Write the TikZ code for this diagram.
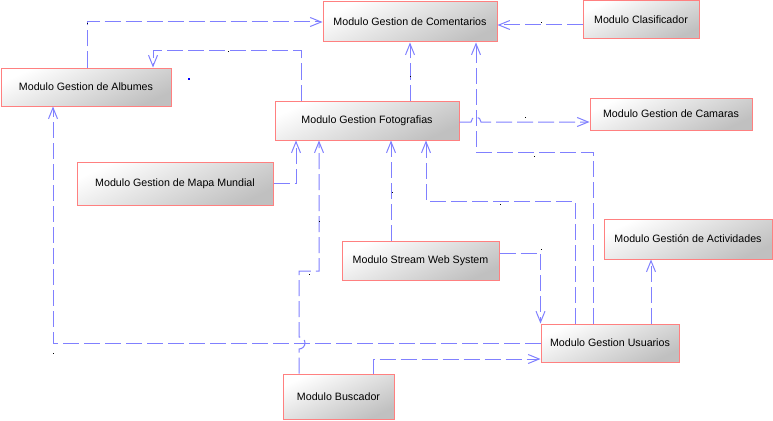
\documentclass[tikz,border=0pt]{standalone}
\usepackage{fontspec}
\setmainfont{Liberation Sans}
\usetikzlibrary{arrows.meta}
\definecolor{lnblue}{RGB}{128,128,255}
\definecolor{bxred}{RGB}{255,128,128}
\definecolor{bxgray}{RGB}{192,192,192}
\begin{document}
\begin{tikzpicture}[x=1pt,y=-1pt,
  box/.style={draw=bxred, line width=1pt, top color=white, bottom color=bxgray,
    shading angle=25, inner sep=0pt, font=\fontsize{10.67}{12}\selectfont, text=black},
  dep/.style={draw=lnblue, line width=1pt, dash pattern=on 16pt off 5pt,
    -{Straight Barb[length=11pt,width=9pt,line width=1pt]}},
  lbl/.style={fill=black, inner sep=0pt, minimum size=1pt}]
\useasboundingbox (0,0) rectangle (773,420);
\fill[white] (0,0) rectangle (773,420);
% boxes
\node[box, minimum width=174pt, minimum height=40pt] (com) at (410,22) {Modulo Gestion de Comentarios};
\node[box, minimum width=116pt, minimum height=38pt] (cla) at (641,20) {Modulo Clasificador};
\node[box, minimum width=170pt, minimum height=38pt] (alb) at (86,87) {Modulo Gestion de Albumes};
\node[box, minimum width=184pt, minimum height=39pt] (fot) at (367,120.5) {Modulo Gestion Fotografias};
\node[box, minimum width=162pt, minimum height=32pt] (cam) at (671,114) {Modulo Gestion de Camaras};
\node[box, minimum width=196pt, minimum height=43pt] (map) at (175,183.5) {Modulo Gestion de Mapa Mundial};
\node[box, minimum width=157pt, minimum height=39pt] (str) at (420.5,260.5) {Modulo Stream Web System};
\node[box, minimum width=168pt, minimum height=40pt] (act) at (688,239) {Modulo Gestión de Actividades};
\node[box, minimum width=138pt, minimum height=38pt] (usu) at (610,343) {Modulo Gestion Usuarios};
\node[box, minimum width=111pt, minimum height=45pt] (bus) at (338.5,396.5) {Modulo Buscador};
% helper coordinates
\coordinate (c1) at (87,22);
\coordinate (c2a) at (301,51);
\coordinate (c2b) at (153,51);
\coordinate (c4) at (0,25);
\coordinate (c5) at (0,122);
\coordinate (c6a) at (593,152);
\coordinate (c6b) at (476,152);
\coordinate (c7a) at (575,201);
\coordinate (c7b) at (426,201);
\coordinate (c8) at (391,0);
\coordinate (c9) at (296,184);
\coordinate (c10a) at (299,349);
\coordinate (c10b) at (299,271);
\coordinate (c10c) at (319,271);
\coordinate (c11) at (53,0);
\coordinate (c12) at (373,359);
\coordinate (c13) at (0,253);
\coordinate (c14) at (651,0);
\coordinate (j5) at (471,122);
% connectors
\draw[dep] (alb.north -| c1) |- (com.west |- c1);
\draw[dep] (fot.north -| c2a) -- (c2a) -- (c2b) -- (alb.north -| c2b);
\draw[dep] (fot.north -| com.south) -- (com.south);
\draw[dep] (cla.west |- c4) -- (com.east |- c4);
\draw[dep] (fot.east |- c5) -- (j5) arc[start angle=180, end angle=0, radius=5pt] -- (cam.west |- c5);
\draw[dep] (usu.north -| c6a) -- (c6a) -- (c6b) -- (com.south -| c6b);
\draw[dep] (usu.north -| c7a) -- (c7a) -- (c7b) -- (fot.south -| c7b);
\draw[dep] (str.north -| c8) -- (fot.south -| c8);
\draw[dep] (map.east) -| (fot.south -| c9);
\draw[dep] (bus.north -| c10a) -- (c10a) arc[start angle=-90, end angle=90, radius=6pt] -- (c10b) -- (c10c) -- (fot.south -| c10c);
\draw[dep] (usu.west) -| (alb.south -| c11);
\draw[dep] (bus.north -| c12) |- (usu.west |- c12);
\draw[dep] (str.east |- c13) -| (usu.north west);
\draw[dep] (usu.north -| c14) -- (act.south -| c14);
% tiny connector labels
\node[lbl] (d1) at (87,24) {};
\node[lbl] (d2) at (228,52) {};
\node[lbl, fill=blue, minimum size=2pt] (d3) at (189,79) {};
\node[lbl] (d4) at (410,76) {};
\node[lbl] (d5) at (541,23) {};
\node[lbl] (d6) at (525,117) {};
\node[lbl] (d7) at (534,156) {};
\node[lbl] (d8) at (392,192) {};
\node[lbl] (d9) at (500,204) {};
\node[lbl] (d10) at (319,221) {};
\node[lbl] (d11) at (309,274) {};
\node[lbl] (d12) at (53,353) {};
\node[lbl] (d13) at (541,249) {};
\end{tikzpicture}
\end{document}
